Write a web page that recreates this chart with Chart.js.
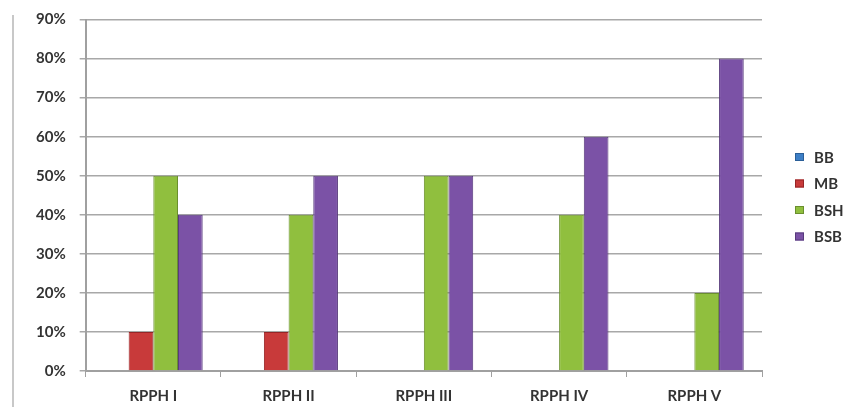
<!DOCTYPE html>
<html>
<head>
<meta charset="utf-8">
<script src="https://cdn.jsdelivr.net/npm/chart.js@4/dist/chart.umd.min.js"></script>
<style>
  html, body { margin: 0; padding: 0; background: #fff; }
  #wrap { position: relative; width: 852px; height: 407px; }
  #frame { position: absolute; left: 12px; top: 15px; width: 2px; height: 392px; background: #c8c8c8; }
  canvas { position: absolute; left: 0; top: 0; }
</style>
</head>
<body>
<div id="wrap">
  <div id="frame"></div>
  <canvas id="chart" width="852" height="407"></canvas>
</div>
<script>
const categories = ['RPPH I', 'RPPH II', 'RPPH III', 'RPPH IV', 'RPPH V'];
const seriesNames = ['BB', 'MB', 'BSH', 'BSB'];
const bbValues = [0, 0, 0, 0, 0];
const mbValues = [10, 10, 0, 0, 0];
const bshValues = [50, 40, 50, 40, 20];
const bsbValues = [40, 50, 50, 60, 80];
const yTicks = [0, 10, 20, 30, 40, 50, 60, 70, 80, 90];

const colors = {
  BB: ['#3d7fc6', '#2b5f98'],
  MB: ['#c83a3a', '#962526'],
  BSH: ['#90bf3e', '#6a8f2e'],
  BSB: ['#7b52a6', '#573a7c']
};

const allValues = [bbValues, mbValues, bshValues, bsbValues];

// legend on the right, drawn by hand so it sits where the original has it
const sideLegend = {
  id: 'sideLegend',
  afterDraw(chart) {
    const ctx = chart.ctx;
    ctx.save();
    ctx.font = 'bold 15px Lato';
    ctx.textBaseline = 'middle';
    chart.data.datasets.forEach((ds, i) => {
      const y = 157 + i * 26.5;
      ctx.fillStyle = ds.backgroundColor;
      ctx.fillRect(795, y - 4, 9, 8);
      ctx.strokeStyle = ds.borderColor;
      ctx.lineWidth = 1;
      ctx.strokeRect(795.5, y - 3.5, 8, 7);
      ctx.fillStyle = '#333';
      ctx.fillText(ds.label, 814, y + 1);
    });
    ctx.restore();
  }
};

new Chart(document.querySelector('#chart').getContext('2d'), {
  type: 'bar',
  data: {
    labels: categories,
    datasets: seriesNames.map((name, i) => ({
      label: name,
      data: allValues[i],
      backgroundColor: colors[name][0],
      borderColor: colors[name][1],
      borderWidth: 1,
      categoryPercentage: 0.73,
      barPercentage: 1
    }))
  },
  plugins: [sideLegend],
  options: {
    responsive: false,
    animation: false,
    layout: { padding: { left: 22, top: 19.5, right: 90, bottom: -8 } },
    plugins: {
      tooltip: { enabled: false },
      legend: { display: false }
    },
    scales: {
      x: {
        grid: {
          display: true,
          offset: true,
          drawOnChartArea: false,
          tickLength: 6,
          color: '#a0a0a0'
        },
        border: { color: '#a0a0a0', width: 2 },
        ticks: {
          color: '#333',
          padding: 10,
          font: { family: 'Lato', size: 15, weight: 'bold' }
        }
      },
      y: {
        min: 0,
        max: 90,
        afterBuildTicks: axis => { axis.ticks = yTicks.map(v => ({ value: v })); },
        afterFit: axis => { axis.paddingTop = 0; },
        grid: { color: '#a8a8a8', lineWidth: 1.5, tickLength: 6 },
        border: { color: '#a0a0a0', width: 2 },
        ticks: {
          color: '#333',
          padding: 14,
          callback: v => v + '%',
          font: { family: 'Lato', size: 15, weight: 'bold' }
        }
      }
    }
  }
});
</script>
</body>
</html>
